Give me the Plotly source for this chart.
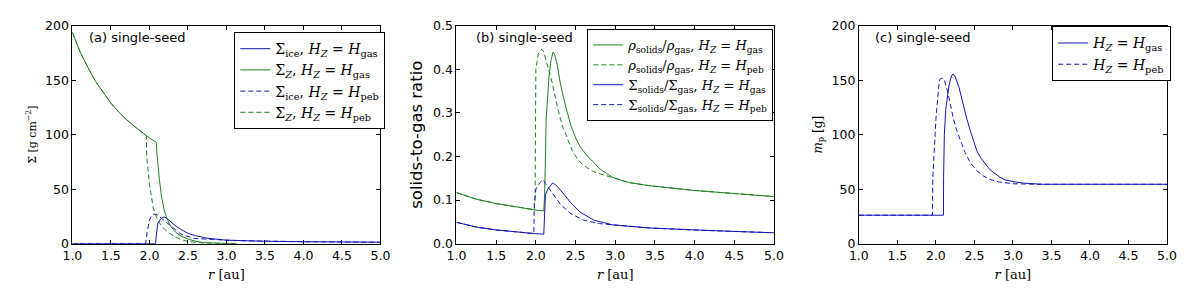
import plotly.graph_objects as go

# ---------------- data: panel (a) surface densities ----------------
r_a_zgas = [1.0, 1.1, 1.2, 1.3, 1.4, 1.5, 1.6, 1.7, 1.8, 1.9, 1.96, 2.0, 2.05, 2.09, 2.095,
            2.11, 2.13, 2.16, 2.195, 2.24, 2.28, 2.34, 2.41, 2.5, 2.6, 2.7, 2.8, 3.0, 3.13]
sig_z_gas = [194, 176, 162, 149, 139, 129, 121, 114, 108, 102, 99, 97, 95, 93, 85,
             70, 59, 42, 30, 21, 15.6, 10.5, 7, 4.2, 2.2, 1.0, 0.5, 0.2, 0.1]

r_a_zpeb = [1.0, 1.1, 1.2, 1.3, 1.4, 1.5, 1.6, 1.7, 1.8, 1.9, 1.96, 1.965, 1.98, 2.0, 2.02,
            2.05, 2.09, 2.14, 2.2, 2.26, 2.33, 2.4, 2.5, 2.6, 2.7, 2.85, 3.0, 3.13]
sig_z_peb = [194, 176, 162, 149, 139, 129, 121, 114, 108, 102, 99, 80, 68, 55, 46,
             33, 24.6, 18, 13, 9.5, 6.5, 4, 2, 1, 0.5, 0.3, 0.15, 0.1]

r_a_icegas = [1.0, 2.08, 2.09, 2.11, 2.15, 2.19, 2.24, 2.32, 2.4, 2.5, 2.6, 2.75, 3.0,
              3.25, 3.5, 4.0, 4.5, 5.0]
sig_ice_gas = [0, 0, 8, 18.8, 23, 24.6, 22.5, 17.4, 13.5, 9.5, 7.3, 5, 3.2,
               2.6, 2.2, 1.8, 1.5, 1.3]

r_a_icepeb = [1.0, 1.95, 1.97, 2.0, 2.03, 2.06, 2.1, 2.19, 2.28, 2.41, 2.58, 2.75, 2.9,
              3.0, 3.25, 3.5, 4.0, 4.5, 5.0]
sig_ice_peb = [0, 0, 10, 21.5, 26, 27.3, 26.5, 21.5, 16, 8.7, 4.8, 4.0, 3.4,
               3.2, 2.6, 2.2, 1.8, 1.5, 1.3]

# ---------------- data: panel (b) solids-to-gas ratios ----------------
r_b_rho_gas = [1.0, 1.25, 1.5, 1.75, 2.0, 2.1, 2.11, 2.125, 2.13, 2.168, 2.19, 2.217, 2.24,
               2.27, 2.31, 2.375, 2.44, 2.5, 2.56, 2.64, 2.72, 2.81, 2.9, 2.97, 3.08, 3.18,
               3.43, 3.75, 4.0, 4.5, 5.0]
rho_ratio_gas = [0.117, 0.102, 0.092, 0.084, 0.077, 0.075, 0.11, 0.235, 0.286, 0.388, 0.42,
                 0.44, 0.432, 0.409, 0.366, 0.315, 0.272, 0.243, 0.222, 0.203, 0.187, 0.171,
                 0.16, 0.152, 0.145, 0.140, 0.133, 0.126, 0.122, 0.115, 0.108]

r_b_rho_peb = [1.0, 1.25, 1.5, 1.75, 1.98, 1.99, 1.995, 2.0, 2.03, 2.075, 2.1, 2.148, 2.21,
               2.27, 2.33, 2.395, 2.46, 2.52, 2.58, 2.64, 2.72, 2.81, 2.9, 2.97, 3.08, 3.18,
               3.43, 3.75, 4.0, 4.5, 5.0]
rho_ratio_peb = [0.117, 0.102, 0.092, 0.084, 0.078, 0.10, 0.30, 0.40, 0.435, 0.446, 0.44,
                 0.409, 0.366, 0.315, 0.272, 0.243, 0.213, 0.195, 0.183, 0.175, 0.166,
                 0.16, 0.155, 0.151, 0.145, 0.140, 0.133, 0.126, 0.122, 0.115, 0.108]

r_b_sig_gas = [1.0, 1.25, 1.5, 1.75, 2.0, 2.1, 2.11, 2.12, 2.15, 2.21, 2.25, 2.31, 2.44,
               2.56, 2.73, 2.97, 3.43, 4.0, 4.5, 5.0]
sig_ratio_gas = [0.049, 0.038, 0.0314, 0.0265, 0.0229, 0.0217, 0.06, 0.112, 0.125, 0.139,
                 0.135, 0.123, 0.094, 0.072, 0.054, 0.043, 0.036, 0.031, 0.028, 0.025]

r_b_sig_peb = [1.0, 1.25, 1.5, 1.75, 1.975, 1.98, 2.0, 2.05, 2.09, 2.12, 2.19, 2.31, 2.44,
               2.6, 2.8, 2.97, 3.43, 4.0, 4.5, 5.0]
sig_ratio_peb = [0.049, 0.038, 0.0314, 0.0265, 0.0232, 0.09, 0.125, 0.14, 0.147, 0.138,
                 0.12, 0.09, 0.069, 0.054, 0.046, 0.043, 0.036, 0.031, 0.028, 0.025]

# ---------------- data: panel (c) planetesimal mass ----------------
r_c_gas = [1.0, 2.098, 2.1, 2.11, 2.128, 2.15, 2.17, 2.19, 2.21, 2.225, 2.25, 2.3, 2.36,
           2.4, 2.45, 2.5, 2.53, 2.58, 2.66, 2.7, 2.83, 2.9, 3.04, 3.15, 3.38, 4.0, 5.0]
mp_gas = [26.1, 26.1, 60, 100, 123, 136, 145, 151, 155, 155.6, 153.5, 143.5, 126,
          115, 103, 91.5, 85.5, 79, 71, 68, 61, 58.5, 56.5, 55.5, 54.5, 54.5, 54.5]
r_c_peb = [1.0, 1.955, 1.96, 1.975, 2.0, 2.043, 2.06, 2.085, 2.11, 2.15, 2.19, 2.23, 2.27,
           2.32, 2.38, 2.45, 2.53, 2.62, 2.72, 2.83, 3.0, 3.3, 4.0, 5.0]
mp_peb = [26.1, 26.1, 60, 85.5, 114, 149, 151.5, 152, 150, 140.5, 127, 114, 104,
          94, 83.5, 74, 67, 62, 58.5, 56.5, 55, 54.5, 54.5, 54.5]

x_ticks = [1.0, 1.5, 2.0, 2.5, 3.0, 3.5, 4.0, 4.5, 5.0]
x_tick_text = ["1.0", "1.5", "2.0", "2.5", "3.0", "3.5", "4.0", "4.5", "5.0"]
ya_ticks = [0, 50, 100, 150, 200]
yb_ticks = [0.0, 0.1, 0.2, 0.3, 0.4, 0.5]
yb_tick_text = ["0.0", "0.1", "0.2", "0.3", "0.4", "0.5"]
yc_ticks = [0, 50, 100, 150, 200]

BLUE = "#1414b4"
GREEN = "#1e821e"
DASH = "5px,3px"
SERIF = "DejaVu Serif"
SANS = "DejaVu Sans"

# page is 1200x301; the html body has an 8px margin, so the figure is 16px smaller
PAD = 8
W, H = 1200 - 2 * PAD, 301 - 2 * PAD
def fx(px):
    return (px - PAD) / W
def fy(py):
    return 1 - (py - PAD) / H

fig = go.Figure()

def add(x, y, name, color, dash, xa, ya, legend):
    fig.add_trace(go.Scatter(
        x=x, y=y, mode="lines", name=name,
        line=dict(color=color, width=1, dash=dash),
        xaxis=xa, yaxis=ya, legend=legend))

# panel (a)
add(r_a_icegas, sig_ice_gas, "Σ<sub>ice</sub>, <i>H<sub>Z</sub></i> = <i>H</i><sub>gas</sub>", BLUE, "solid", "x", "y", "legend")
add(r_a_zgas, sig_z_gas, "Σ<sub><i>Z</i></sub>, <i>H<sub>Z</sub></i> = <i>H</i><sub>gas</sub>", GREEN, "solid", "x", "y", "legend")
add(r_a_icepeb, sig_ice_peb, "Σ<sub>ice</sub>, <i>H<sub>Z</sub></i> = <i>H</i><sub>peb</sub>", BLUE, DASH, "x", "y", "legend")
add(r_a_zpeb, sig_z_peb, "Σ<sub><i>Z</i></sub>, <i>H<sub>Z</sub></i> = <i>H</i><sub>peb</sub>", GREEN, DASH, "x", "y", "legend")

# panel (b)
add(r_b_rho_gas, rho_ratio_gas, "<i>ρ</i><sub>solids</sub>/<i>ρ</i><sub>gas</sub>, <i>H<sub>Z</sub></i> = <i>H</i><sub>gas</sub>", GREEN, "solid", "x2", "y2", "legend2")
add(r_b_rho_peb, rho_ratio_peb, "<i>ρ</i><sub>solids</sub>/<i>ρ</i><sub>gas</sub>, <i>H<sub>Z</sub></i> = <i>H</i><sub>peb</sub>", GREEN, DASH, "x2", "y2", "legend2")
add(r_b_sig_gas, sig_ratio_gas, "Σ<sub>solids</sub>/Σ<sub>gas</sub>, <i>H<sub>Z</sub></i> = <i>H</i><sub>gas</sub>", BLUE, "solid", "x2", "y2", "legend2")
add(r_b_sig_peb, sig_ratio_peb, "Σ<sub>solids</sub>/Σ<sub>gas</sub>, <i>H<sub>Z</sub></i> = <i>H</i><sub>peb</sub>", BLUE, DASH, "x2", "y2", "legend2")

# panel (c)
add(r_c_gas, mp_gas, "<i>H<sub>Z</sub></i> = <i>H</i><sub>gas</sub>", BLUE, "solid", "x3", "y3", "legend3")
add(r_c_peb, mp_peb, "<i>H<sub>Z</sub></i> = <i>H</i><sub>peb</sub>", BLUE, DASH, "x3", "y3", "legend3")

def xaxis(dom, anchor):
    return dict(domain=dom, anchor=anchor, range=[1.0, 5.0], tickmode="array",
                tickvals=x_ticks, ticktext=x_tick_text, ticks="inside", ticklen=4,
                tickcolor="black", showline=True, linecolor="black", linewidth=1,
                mirror="ticks", showgrid=False, zeroline=False,
                tickfont=dict(family=SANS, size=12.5, color="black"),
                title=dict(text="<i>r</i> [au]", font=dict(family=SERIF, size=13, color="black"),
                           standoff=8))

def yaxis(dom, anchor, rng, vals, text, title, tfont):
    return dict(domain=dom, anchor=anchor, range=rng, tickmode="array", tickvals=vals,
                ticktext=text, ticks="inside", ticklen=4, tickcolor="black",
                showline=True, linecolor="black", linewidth=1, mirror="ticks",
                showgrid=False, zeroline=False,
                tickfont=dict(family=SANS, size=12.5, color="black"),
                title=dict(text=title, font=tfont, standoff=6))

ydom = [fy(248.3), fy(18.3)]
xa = [fx(63.3), fx(376.7)]
xb = [fx(454), fx(777)]
xc = [fx(863.3), fx(1176.7)]

def legend_style(px, py, size):
    return dict(x=fx(px), y=fy(py), bgcolor="white", bordercolor="black", borderwidth=1,
                font=dict(family=SERIF, size=size, color="black"),
                xanchor="left", yanchor="top", itemwidth=30)

fig.update_layout(
    width=W, height=H, margin=dict(l=0, r=0, t=0, b=0),
    plot_bgcolor="white", paper_bgcolor="white", autosize=False,
    xaxis=xaxis(xa, "y"),
    xaxis2=xaxis(xb, "y2"),
    xaxis3=xaxis(xc, "y3"),
    yaxis=yaxis(ydom, "x", [0, 200], ya_ticks, [str(v) for v in ya_ticks],
                "Σ [g cm<sup>−2</sup>]", dict(family=SERIF, size=11, color="black")),
    yaxis2=yaxis(ydom, "x2", [0, 0.5], yb_ticks, yb_tick_text,
                 "solids-to-gas ratio", dict(family=SANS, size=16.5, color="black")),
    yaxis3=yaxis(ydom, "x3", [0, 200], yc_ticks, [str(v) for v in yc_ticks],
                 "<i>m</i><sub>p</sub> [g]", dict(family=SERIF, size=12, color="black")),
    legend=legend_style(228, 25, 14),
    legend2=legend_style(587, 21.7, 13),
    legend3=legend_style(1060, 19, 14),
    showlegend=True,
)

for txt, px in [("(a) single-seed", 78), ("(b) single-seed", 471.5), ("(c) single-seed", 878)]:
    fig.add_annotation(text=txt, xref="paper", yref="paper", x=fx(px), y=fy(31),
                       xanchor="left", yanchor="middle", showarrow=False,
                       font=dict(family=SANS, size=13, color="black"))

fig.write_html("out.html", config={"displayModeBar": False})
